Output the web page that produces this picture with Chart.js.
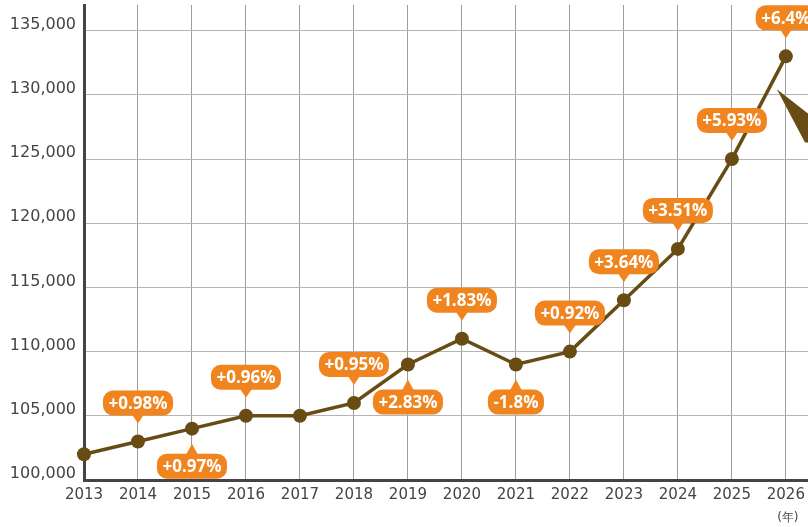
<!DOCTYPE html>
<html>
<head>
<meta charset="utf-8">
<script src="https://cdn.jsdelivr.net/npm/chart.js@4/dist/chart.umd.min.js"></script>
<style>
  html, body { margin: 0; padding: 0; background: #fff; }
  canvas { display: block; }
</style>
</head>
<body>
<canvas id="c" width="808" height="527"></canvas>
<script>
// ---- data ----
const years = [2013, 2014, 2015, 2016, 2017, 2018, 2019, 2020, 2021, 2022, 2023, 2024, 2025, 2026];
const values = [102000, 103000, 104000, 105000, 105000, 106000, 109000, 111000, 109000, 110000, 114000, 118000, 125000, 133000];
const changeLabels = ['', '+0.98%', '+0.97%', '+0.96%', '', '+0.95%', '+2.83%', '+1.83%', '-1.8%', '+0.92%', '+3.64%', '+3.51%', '+5.93%', '+6.4%'];
const yTicks = [100000, 105000, 110000, 115000, 120000, 125000, 130000, 135000];
const unitLabel = '(年)';

// ---- presentation ----
const labelSide = ['', 'up', 'down', 'up', '', 'up', 'down', 'up', 'down', 'up', 'up', 'up', 'up', 'up'];
const BROWN = '#684C14';
const ORANGE = '#F0841F';
const TEXT = '#444444';

const points = years.map((y, i) => ({ x: y, y: values[i] }));

function roundRect(ctx, x, y, w, h, r) {
  ctx.beginPath();
  ctx.moveTo(x + r, y);
  ctx.lineTo(x + w - r, y);
  ctx.arcTo(x + w, y, x + w, y + r, r);
  ctx.lineTo(x + w, y + h - r);
  ctx.arcTo(x + w, y + h, x + w - r, y + h, r);
  ctx.lineTo(x + r, y + h);
  ctx.arcTo(x, y + h, x, y + h - r, r);
  ctx.lineTo(x, y + r);
  ctx.arcTo(x, y, x + r, y, r);
  ctx.closePath();
}

const decorations = {
  id: 'decorations',
  afterDatasetsDraw(chart) {
    const ctx = chart.ctx;
    const meta = chart.getDatasetMeta(0);
    const xs = chart.scales.x;
    ctx.save();
    // arrow head decoration near last point
    const last = meta.data[meta.data.length - 1];
    const tx = last.x - 9, ty = last.y + 33;
    ctx.fillStyle = BROWN;
    ctx.beginPath();
    ctx.moveTo(tx, ty);
    ctx.lineTo(tx + 75, ty + 58);
    ctx.lineTo(tx + 28, ty + 53);
    ctx.closePath();
    ctx.fill();

    // callouts
    ctx.font = 'bold 17px "Open Sans", sans-serif';
    ctx.textAlign = 'center';
    ctx.textBaseline = 'middle';
    const H = 25, R = 10, TW = 6, TH = 9;
    meta.data.forEach((pt, i) => {
      const txt = changeLabels[i];
      if (!txt) return;
      const w = ctx.measureText(txt).width + 11;
      const cx = pt.x;
      let boxTop, tipY, baseY;
      if (labelSide[i] === 'up') {
        tipY = pt.y - 18;
        baseY = tipY - TH;
        boxTop = baseY - H + 1;
      } else {
        tipY = pt.y + 15;
        baseY = tipY + TH + 1;
        boxTop = baseY;
      }
      ctx.fillStyle = ORANGE;
      roundRect(ctx, cx - w / 2, boxTop, w, H, R);
      ctx.fill();
      ctx.beginPath();
      ctx.moveTo(cx - TW, baseY + (labelSide[i] === 'up' ? 0 : 1));
      ctx.lineTo(cx + TW, baseY + (labelSide[i] === 'up' ? 0 : 1));
      ctx.lineTo(cx, tipY);
      ctx.closePath();
      ctx.fill();
      ctx.fillStyle = '#ffffff';
      ctx.fillText(txt, cx, boxTop + H / 2 + 1);
    });

    // unit label
    ctx.font = '12px "DejaVu Sans", sans-serif';
    ctx.fillStyle = TEXT;
    ctx.textAlign = 'center';
    ctx.fillText(unitLabel, xs.getPixelForValue(years[years.length - 1]) + 2, chart.height - 9);
    ctx.restore();
  }
};

new Chart(document.getElementById('c'), {
  type: 'line',
  data: {
    datasets: [{
      data: points,
      borderColor: BROWN,
      borderWidth: 3.5,
      pointRadius: 7,
      pointBackgroundColor: BROWN,
      pointBorderWidth: 0,
      tension: 0,
      clip: false
    }]
  },
  options: {
    responsive: false,
    animation: false,
    devicePixelRatio: 1,
    layout: { autoPadding: false, padding: { top: 5, right: 0, left: 0, bottom: 0 } },
    plugins: { legend: { display: false }, tooltip: { enabled: false } },
    scales: {
      x: {
        type: 'linear',
        min: years[0],
        max: years[years.length - 1] + 0.41,
        afterBuildTicks(scale) { scale.ticks = years.map(v => ({ value: v })); },
        afterFit(scale) {
          scale.height = 47;
          scale.paddingLeft = 0; scale.paddingRight = 0;
        },
        ticks: {
          callback: v => String(v),
          font: { family: '"DejaVu Sans", sans-serif', size: 15 },
          color: TEXT,
          padding: 6,
          maxRotation: 0,
          autoSkip: false
        },
        grid: { color: '#9c9c9c', lineWidth: 1, drawTicks: false },
        border: { color: '#444444', width: 3 }
      },
      y: {
        min: 100000,
        max: 137000,
        afterBuildTicks(scale) { scale.ticks = yTicks.map(v => ({ value: v })); },
        afterFit(scale) {
          scale.width = 84;
          scale.paddingTop = 0; scale.paddingBottom = 0;
        },
        ticks: {
          callback: v => v.toLocaleString('en-US'),
          font: { family: '"DejaVu Sans", sans-serif', size: 16 },
          color: TEXT,
          padding: 8,
          labelOffset: -6
        },
        grid: { color: '#b4b4b4', lineWidth: 1, drawTicks: false },
        border: { color: '#444444', width: 3 }
      }
    }
  },
  plugins: [decorations]
});
</script>
</body>
</html>
